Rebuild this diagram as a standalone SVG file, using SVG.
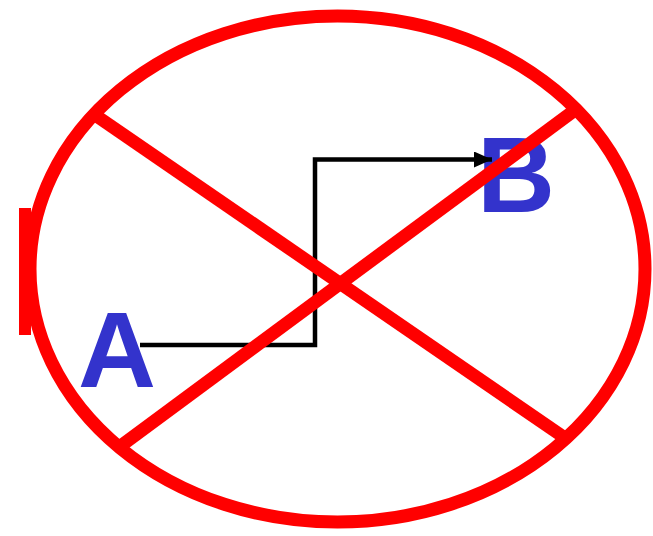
<svg xmlns="http://www.w3.org/2000/svg" width="653" height="536" viewBox="0 0 653 536">
<style>
.lbl{font-family:"Liberation Sans",Arial,sans-serif;font-weight:bold;font-size:108px;fill:#3333CC}
.red{stroke:#FF0000;fill:none;stroke-width:13}
.conn{stroke:#000;stroke-width:4.5;fill:none}
</style>
<defs>
<marker id="arr" markerUnits="userSpaceOnUse" markerWidth="18" markerHeight="16" refX="18" refY="8" orient="auto">
<path d="M0,0 L18,8 L0,16 Z" fill="#000"/>
</marker>
</defs>
<rect width="653" height="536" fill="#fff"/>
<g id="nodeA"><text class="lbl" x="78" y="387">A</text></g>
<g id="nodeB"><text class="lbl" x="477" y="212">B</text></g>
<g id="connectors">
<path class="conn" d="M140,345 H315 V159.5 H492" marker-end="url(#arr)"/>
</g>
<g id="crossout">
<rect x="19" y="208" width="12" height="127" fill="#FF0000"/>
<ellipse class="red" cx="337.5" cy="269" rx="307.5" ry="253"/>
<line class="red" x1="95" y1="115" x2="568" y2="440"/>
<line class="red" x1="122" y1="445" x2="575" y2="110"/>
</g>
</svg>
